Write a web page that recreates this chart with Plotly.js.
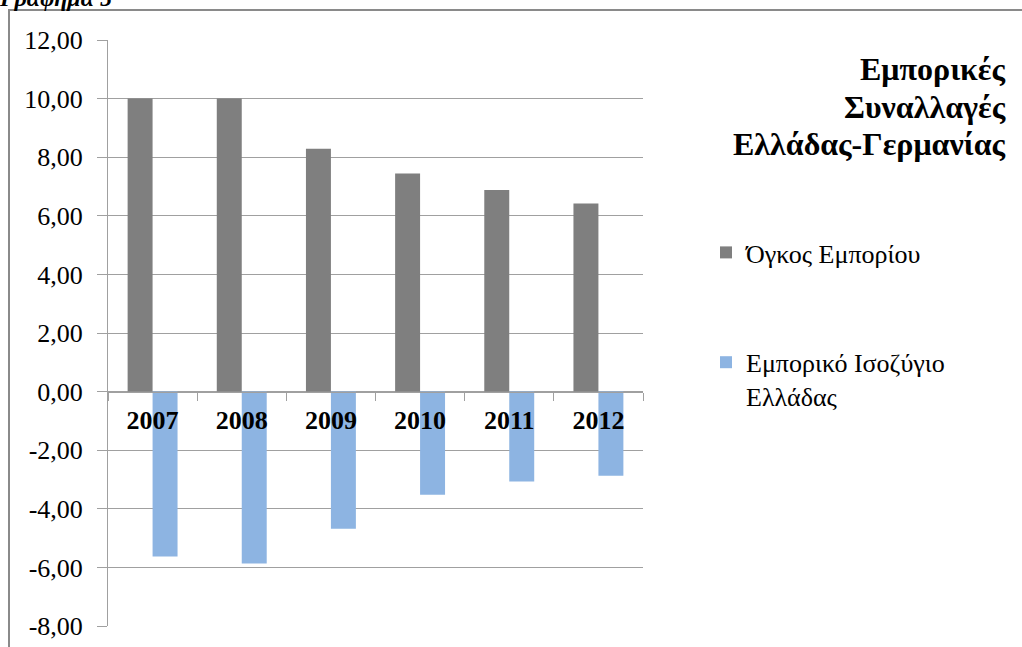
<!DOCTYPE html>
<html><head><meta charset="utf-8">
<script src="https://cdn.plot.ly/plotly-3.0.1.min.js"></script>
<style>
html,body{margin:0;padding:0;background:#fff;overflow:hidden;}
#chart{position:absolute;left:0;top:0;width:1022px;height:647px;}
#frame{position:absolute;left:8px;top:9px;width:1100px;height:700px;border-left:2px solid #8a8a8a;border-top:2px solid #8a8a8a;pointer-events:none;}
#cap{position:absolute;left:0;top:-15px;font-family:"Liberation Serif";font-weight:bold;font-style:italic;font-size:24px;color:#000;white-space:nowrap;}
</style></head>
<body>
<div id="chart"></div>
<div id="frame"></div>
<div id="cap">Γράφημα 5</div>
<script>
const years = ['2007','2008','2009','2010','2011','2012'];
const tradeVolume = [10.0, 10.0, 8.29, 7.44, 6.88, 6.42];
const tradeBalance = [-5.63, -5.87, -4.68, -3.52, -3.07, -2.87];
const seriesNames = ['Όγκος Εμπορίου', 'Εμπορικό Ισοζύγιο<br>Ελλάδας'];
const titleLines = ['Εμπορικές', 'Συναλλαγές', 'Ελλάδας-Γερμανίας'];
const yTickValues = [-8,-6,-4,-2,0,2,4,6,8,10,12];
const yTickLabels = ['-8,00','-6,00','-4,00','-2,00','0,00','2,00','4,00','6,00','8,00','10,00','12,00'];

const W = 1022, H = 647, ML = 108, MR = 379, MT = 40, MB = 21;
const PW = W - ML - MR, PH = H - MT - MB;
const px2x = p => (p - ML) / PW;
const px2y = p => (H - MB - p) / PH;

const data = [
  {type:'bar', x:years, y:tradeVolume, name:seriesNames[0], legendgroup:'a',
   marker:{color:'#7f7f7f'}, hoverinfo:'skip'},
  {type:'bar', x:years, y:tradeBalance, name:seriesNames[1], legendgroup:'b',
   marker:{color:'#8db4e2'}, hoverinfo:'skip'}
];
const titleY = [69, 107, 144];
const annotations = titleLines.map((t, i) => ({
  text:t, xref:'paper', yref:'paper', x:px2x(1008), y:px2y(titleY[i]),
  xanchor:'right', yanchor:'middle', showarrow:false,
  font:{family:'Liberation Serif', size:32, color:'#000', weight:'bold'}
}));
const layout = {
  width:W, height:H,
  margin:{l:ML, r:MR, t:MT, b:MB},
  paper_bgcolor:'#fff', plot_bgcolor:'#fff',
  barmode:'group', bargap:0.44, bargroupgap:0,
  annotations:annotations,
  xaxis:{type:'category', anchor:'free', position:0.4, showline:true, linecolor:'#a0a0a0', linewidth:1,
         ticks:'outside', ticklen:8, tickcolor:'#a0a0a0', tickson:'boundaries', showgrid:false,
         ticklabelstandoff:5,
         tickfont:{family:'Liberation Serif', size:26, color:'#000', weight:'bold'}, fixedrange:true},
  yaxis:{range:[-8,12], tickmode:'array', tickvals:yTickValues, ticktext:yTickLabels,
         showline:true, linecolor:'#a0a0a0',
         ticks:'outside', ticklen:10, tickcolor:'#a0a0a0', gridcolor:'#a0a0a0', gridwidth:1,
         zeroline:false, ticklabelstandoff:9,
         tickfont:{family:'Liberation Serif', size:26, color:'#000'}, fixedrange:true},
  showlegend:true,
  legend:{x:px2x(706), xanchor:'left', y:px2y(229), yanchor:'top',
          traceorder:'grouped', tracegroupgap:73, valign:'top',
          font:{family:'Liberation Serif', size:26, color:'#000'}, bgcolor:'rgba(0,0,0,0)'}
};
Plotly.newPlot('chart', data, layout, {displayModeBar:false, staticPlot:true});
</script>
</body></html>
